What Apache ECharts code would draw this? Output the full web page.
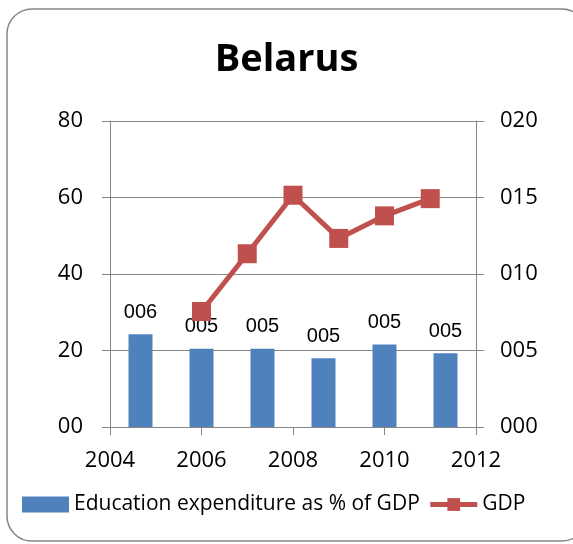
<!DOCTYPE html>
<html>
<head>
<meta charset="utf-8">
<script src="https://cdn.jsdelivr.net/npm/echarts@6/dist/echarts.min.js"></script>
<style>
    html, body { margin: 0; padding: 0; background: #fff; }
    #main { width: 573px; height: 544px; }
</style>
</head>
<body>
<div id="main"></div>
<script>
// bars: education expenditure (% of GDP), right axis
var barCats = ['2005', '2006', '2007', '2008', '2009', '2010'];
var eduValues = [6.06, 5.12, 5.12, 4.5, 5.4, 4.82];
// line: GDP, left axis, plotted on the year axis
var gdpYears = [2006, 2007, 2008, 2009, 2010, 2011];
var gdpValues = [30.2, 45.3, 60.6, 49.3, 55.2, 59.7];

var gray = '#868686';
var labelFont = 'Open Sans';

function pad(v, n) {
    var s = String(Math.round(v));
    while (s.length < n) s = '0' + s;
    return s;
}

var myCharts = echarts.init(document.getElementById('main'));
myCharts.setOption({
    animation: false,
    title: {
        text: 'Belarus',
        left: 'center',
        top: 36,
        textStyle: { fontFamily: labelFont, fontWeight: 'bold', fontSize: 38, color: '#000' }
    },
    graphic: [{
        type: 'rect',
        shape: { x: 7, y: 9, width: 580, height: 532, r: 25 },
        style: { fill: 'none', stroke: gray, lineWidth: 1.5 },
        silent: true
    }],
    legend: {
        left: 17,
        top: 489,
        itemGap: 8,
        itemWidth: 47,
        itemHeight: 16,
        textStyle: { fontFamily: labelFont, fontSize: 21, color: '#000' },
        data: [
            { name: 'Education expenditure as % of GDP', icon: 'rect' },
            { name: 'GDP', lineStyle: { width: 5 } }
        ]
    },
    grid: { left: 110, right: 97, top: 121, bottom: 117 },
    xAxis: [{
        type: 'category',
        data: barCats,
        show: false
    }, {
        type: 'value',
        min: 2004,
        max: 2012,
        interval: 2,
        position: 'bottom',
        axisLine: { lineStyle: { color: gray } },
        axisTick: { show: true, length: 8, lineStyle: { color: gray } },
        axisLabel: {
            margin: 23, fontFamily: labelFont, fontSize: 22, color: '#000',
            formatter: function (v) { return String(v); }
        },
        splitLine: { show: false }
    }],
    yAxis: [{
        type: 'value',
        min: 0,
        max: 80,
        interval: 20,
        axisLine: { show: true, lineStyle: { color: gray } },
        axisTick: { show: true, length: 8, lineStyle: { color: gray } },
        axisLabel: {
            margin: 27, fontFamily: labelFont, fontSize: 22, color: '#000',
            formatter: function (v) { return pad(v, 2); }
        },
        splitLine: { lineStyle: { color: gray } }
    }, {
        type: 'value',
        min: 0,
        max: 20,
        interval: 5,
        position: 'right',
        axisLine: { show: true, lineStyle: { color: gray } },
        axisTick: { show: true, length: 8, lineStyle: { color: gray } },
        axisLabel: {
            margin: 24, fontFamily: labelFont, fontSize: 22, color: '#000',
            formatter: function (v) { return pad(v, 3); }
        },
        splitLine: { show: false }
    }],
    series: [{
        name: 'Education expenditure as % of GDP',
        type: 'bar',
        xAxisIndex: 0,
        yAxisIndex: 1,
        barWidth: 24,
        data: eduValues,
        itemStyle: { color: '#4F81BD' },
        label: {
            show: true,
            position: 'top',
            distance: 12,
            fontFamily: 'Liberation Sans',
            fontSize: 20,
            color: '#000',
            formatter: function (p) { return pad(p.value, 3); }
        }
    }, {
        name: 'GDP',
        type: 'line',
        xAxisIndex: 1,
        yAxisIndex: 0,
        data: gdpYears.map(function (y, i) { return [y, gdpValues[i]]; }),
        symbol: 'rect',
        symbolSize: 19,
        lineStyle: { width: 5, color: '#C0504D' },
        itemStyle: { color: '#C0504D' },
        z: 3
    }]
});
</script>
</body>
</html>
